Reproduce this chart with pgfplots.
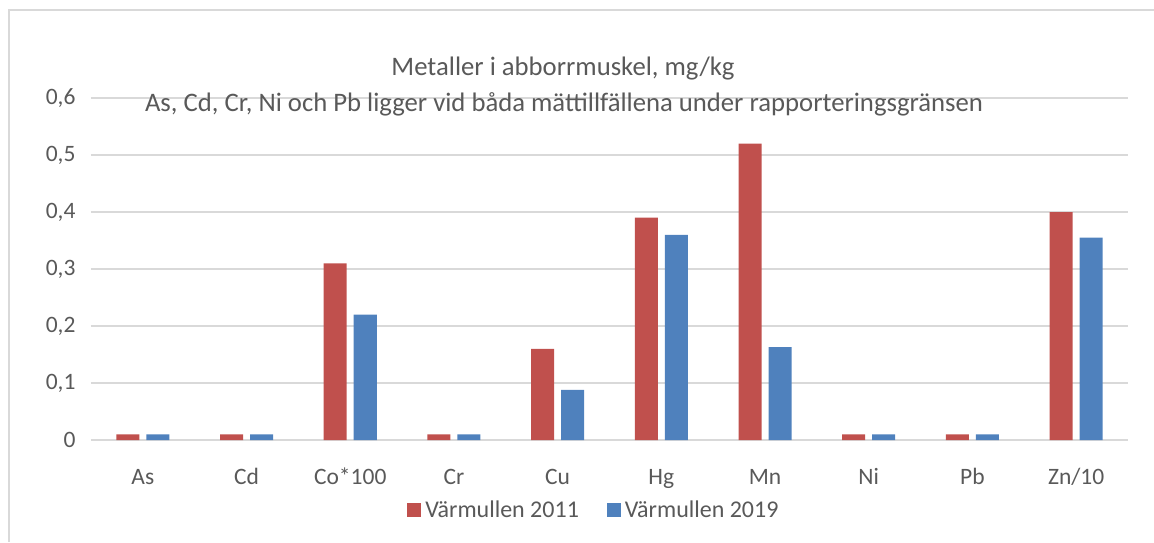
\documentclass[border=0pt]{standalone}
\usepackage{pgfplots}
\pgfplotsset{compat=1.18}
\usepackage{fontspec}
\setmainfont{Carlito}
\definecolor{cred}{HTML}{C0504D}
\definecolor{cblue}{HTML}{4F81BD}
\definecolor{ctext}{HTML}{595959}
\definecolor{cgrid}{HTML}{D9D9D9}
\begin{document}
\begin{tikzpicture}
\path[use as bounding box] (0pt,0pt) rectangle (1154pt,542pt);
\draw[cgrid, line width=1.2pt] (9pt,0pt) -- (9pt,532pt) -- (1160pt,532pt);
\begin{axis}[
  at={(91pt,102pt)}, anchor=south west,
  scale only axis, width=1037pt, height=342pt,
  ybar, bar width=23pt,
  xmin=-0.5, xmax=9.5, ymin=0, ymax=0.6,
  xtick=data,
  xticklabels={As,Cd,Co*100,Cr,Cu,Hg,Mn,Ni,Pb,Zn/10},
  ytick={0,0.1,0.2,0.3,0.4,0.5,0.6},
  /pgf/number format/use comma,
  /pgf/number format/fixed,
  /pgf/number format/precision=1,
  /pgf/number format/assume math mode=true,
  axis line style={draw=none},
  tick style={draw=none},
  ymajorgrids, grid style={cgrid, line width=1.2pt},
  tick label style={font=\fontsize{23.5}{28}\selectfont, text=ctext},
  xticklabel style={anchor=base, yshift=-40pt},
  yticklabel style={xshift=-12pt},
  legend style={at={(0.485,-0.205)}, anchor=center, draw=none, legend columns=2,
    font=\fontsize{24}{28}\selectfont, text=ctext,
    /tikz/every even column/.style={},
    /tikz/column 1/.style={column sep=2pt},
    /tikz/column 2/.style={column sep=26pt},
    /tikz/column 3/.style={column sep=2pt}},
  legend image code/.code={\fill[#1] (0pt,-7pt) rectangle (14pt,7pt);},
]
\addplot[fill=cred, draw=none, bar shift=-15pt] coordinates {
(0,0.01) (1,0.01) (2,0.31) (3,0.01) (4,0.16) (5,0.39) (6,0.52) (7,0.01) (8,0.01) (9,0.40)};
\addplot[fill=cblue, draw=none, bar shift=15pt] coordinates {
(0,0.01) (1,0.01) (2,0.22) (3,0.01) (4,0.088) (5,0.36) (6,0.163) (7,0.01) (8,0.01) (9,0.355)};
\legend{Värmullen 2011, Värmullen 2019}
\end{axis}
\node[text=ctext, font=\fontsize{26.7}{32}\selectfont] at (563pt,473pt) {Metaller i abborrmuskel, mg/kg};
\node[text=ctext, font=\fontsize{26.7}{32}\selectfont] at (564pt,438pt) {As, Cd, Cr, Ni och Pb ligger vid båda mättillfällena under rapporteringsgränsen};
\end{tikzpicture}
\end{document}
